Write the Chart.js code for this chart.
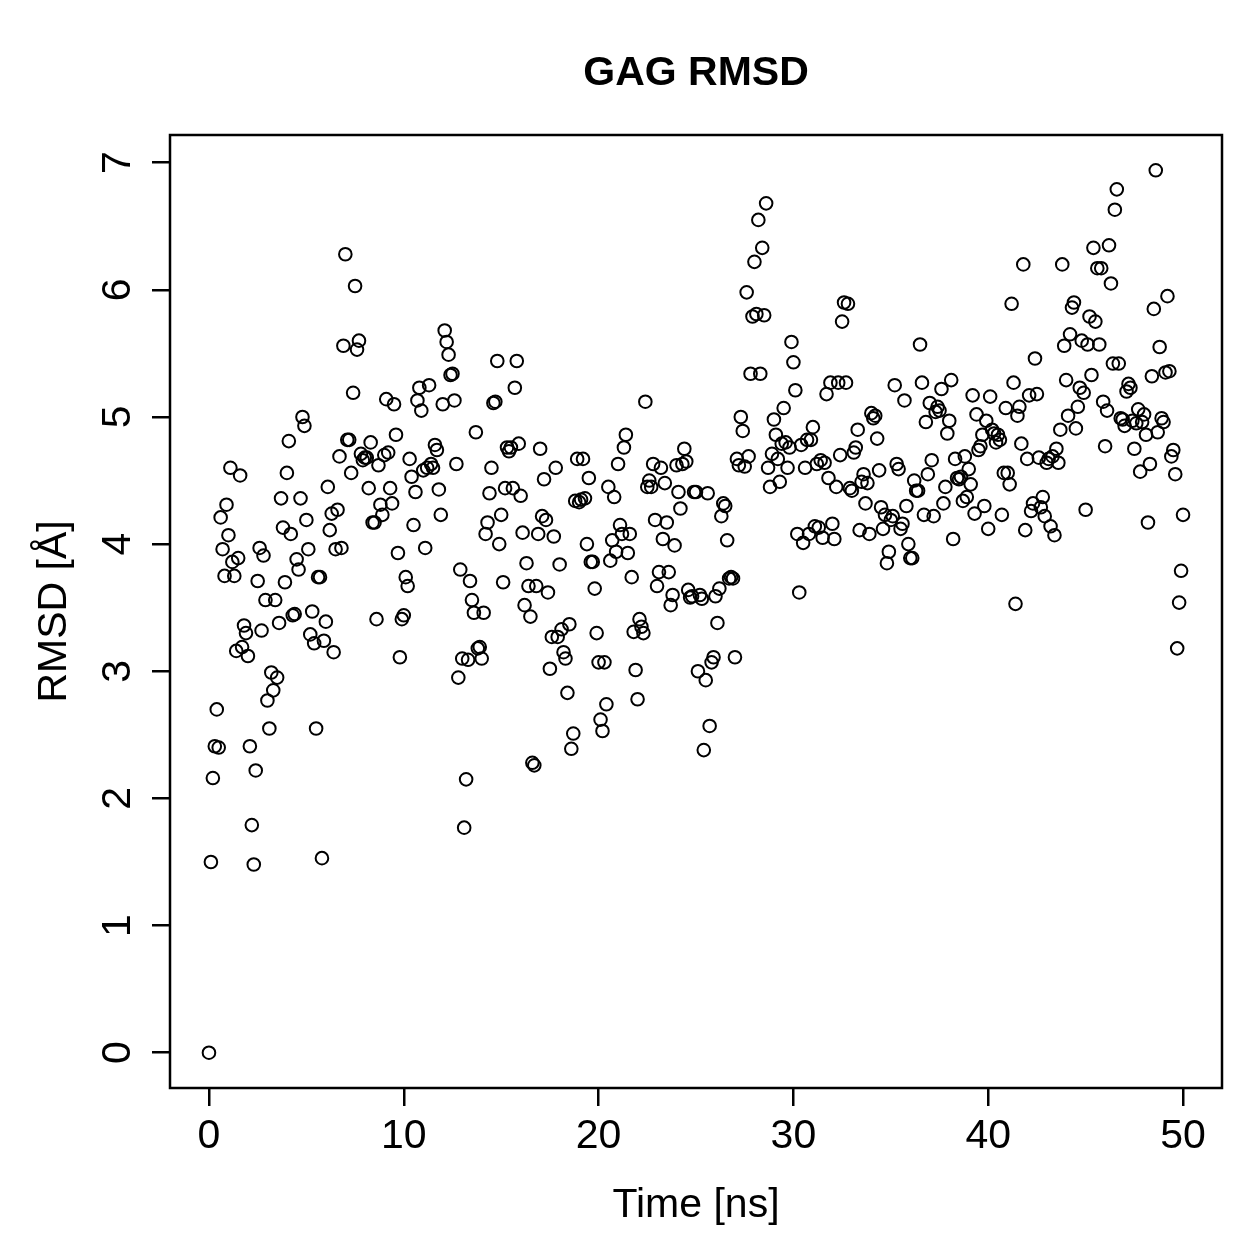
<!DOCTYPE html>
<html>
<head>
<meta charset="utf-8">
<script src="https://cdn.jsdelivr.net/npm/chart.js@4/dist/chart.umd.min.js"></script>
<style>
  html, body { margin: 0; padding: 0; background: #fff; }
  #wrap { width: 1259px; height: 1259px; }
</style>
</head>
<body>
<div id="wrap"><canvas id="c" width="1259" height="1259"></canvas></div>
<script>
// ---- DATA ----
const chartTitle = "GAG RMSD";
const xTitle = "Time [ns]";
const yTitle = "RMSD [Å]";
const xTickValues = [0, 10, 20, 30, 40, 50];
const yTickValues = [0, 1, 2, 3, 4, 5, 6, 7];
const frameStepNs = 0.1; // trajectory sampling interval

// RMSD values (Å), one per frame, split by 5 ns windows
const rmsd_00_05 = [0.00,1.50,2.16,2.41,2.70,2.40,4.21,3.96,3.75,4.31,4.07,4.60,3.86,3.75,3.16,3.89,4.54,3.19,3.36,3.30,3.12,2.41,1.79,1.48,2.22,3.71,3.97,3.32,3.91,3.56,2.77,2.55,2.99,2.85,3.56,2.95,3.38,4.36,4.13,3.70,4.56,4.81,4.08,3.44,3.45,3.88,3.80,4.36,5.00,4.93];
const rmsd_05_10 = [4.19,3.96,3.29,3.47,3.22,2.55,3.74,3.74,1.53,3.24,3.39,4.45,4.11,4.24,3.15,3.96,4.27,4.69,3.97,5.56,6.28,4.82,4.82,4.56,5.19,6.03,5.53,5.60,4.71,4.66,4.68,4.68,4.44,4.80,4.17,4.17,3.41,4.62,4.31,4.23,4.70,5.14,4.72,4.44,4.32,5.10,4.86,3.93,3.11,3.41];
const rmsd_10_15 = [3.44,3.74,3.67,4.67,4.53,4.15,4.41,5.13,5.23,5.05,4.58,3.97,4.60,5.25,4.63,4.60,4.78,4.74,4.43,4.23,5.10,5.68,5.59,5.49,5.33,5.34,5.13,4.63,2.95,3.80,3.10,1.77,2.15,3.09,3.71,3.56,3.46,4.88,3.18,3.19,3.10,3.46,4.08,4.17,4.40,4.60,5.11,5.12,5.44,4.00];
const rmsd_15_20 = [4.23,3.70,4.44,4.76,4.73,4.76,4.44,5.23,5.44,4.79,4.38,4.09,3.52,3.85,3.67,3.43,2.28,2.26,3.67,4.08,4.75,4.22,4.51,4.19,3.62,3.02,3.27,4.06,4.60,3.27,3.84,3.33,3.15,3.10,2.83,3.37,2.39,2.51,4.34,4.67,4.33,4.35,4.67,4.36,4.00,4.52,3.86,3.86,3.65,3.30];
const rmsd_20_25 = [3.07,2.62,2.53,3.07,2.74,4.45,3.87,4.03,4.37,3.94,4.63,4.15,4.08,4.76,4.86,3.93,4.08,3.74,3.31,3.01,2.78,3.41,3.35,3.30,5.12,4.45,4.50,4.45,4.63,4.19,3.67,3.78,4.60,4.04,4.48,4.17,3.78,3.52,3.60,3.99,4.62,4.41,4.28,4.63,4.75,4.65,3.64,3.58,3.59,4.41];
const rmsd_25_30 = [4.41,3.00,3.60,3.57,2.38,2.93,4.40,2.57,3.07,3.11,3.59,3.38,3.65,4.22,4.32,4.30,4.03,3.73,3.74,3.73,3.11,4.67,4.62,5.00,4.89,4.61,5.98,4.69,5.34,5.79,6.22,5.81,6.55,5.34,6.33,5.80,6.68,4.60,4.45,4.71,4.98,4.86,4.67,4.49,4.79,5.07,4.80,4.60,4.76,5.59];
const rmsd_30_35 = [5.43,5.21,4.08,3.62,4.78,4.01,4.60,4.82,4.08,4.82,4.92,4.14,4.63,4.13,4.66,4.05,4.64,5.18,4.52,5.27,4.16,4.04,4.45,5.27,4.70,5.75,5.90,5.27,5.89,4.44,4.42,4.72,4.76,4.90,4.11,4.49,4.55,4.32,4.48,4.08,5.03,4.99,5.01,4.83,4.58,4.29,4.12,4.23,3.85,3.94];
const rmsd_35_40 = [4.19,4.22,5.25,4.63,4.59,4.12,4.16,5.13,4.30,4.00,3.89,3.89,4.50,4.42,4.42,5.57,5.27,4.23,4.96,4.55,5.11,4.66,4.22,5.04,5.08,5.05,5.22,4.32,4.45,4.87,4.97,5.29,4.04,4.67,4.52,4.51,4.53,4.34,4.69,4.37,4.59,4.47,5.17,4.24,5.02,4.74,4.77,4.86,4.30,4.97];
const rmsd_40_45 = [4.12,5.16,4.90,4.87,4.80,4.86,4.82,4.23,4.56,5.07,4.56,4.47,5.89,5.27,3.53,5.01,5.08,4.79,6.20,4.11,4.67,5.17,4.26,4.32,5.46,5.18,4.68,4.29,4.37,4.22,4.64,4.67,4.14,4.69,4.07,4.75,4.64,4.90,6.20,5.56,5.29,5.01,5.65,5.86,5.90,4.91,5.08,5.23,5.60,5.19];
const rmsd_45_50 = [4.27,5.57,5.79,5.33,6.33,5.75,6.17,5.57,6.17,5.12,4.77,5.05,6.35,6.05,5.42,6.63,6.79,5.42,4.99,4.98,4.93,5.20,5.26,5.23,4.97,4.75,4.95,5.06,4.57,4.96,5.02,4.86,4.17,4.63,5.32,5.85,6.94,4.88,5.55,4.99,4.96,5.35,5.95,5.36,4.69,4.74,4.55,3.18,3.54,3.79,4.23];

const rmsd = [].concat(rmsd_00_05, rmsd_05_10, rmsd_10_15, rmsd_15_20, rmsd_20_25,
                       rmsd_25_30, rmsd_30_35, rmsd_35_40, rmsd_40_45, rmsd_45_50);
const points = rmsd.map((v, i) => ({ x: +(i * frameStepNs).toFixed(2), y: v }));

// R-style axis extension (4% each side)
function ext(lo, hi) { const d = (hi - lo) * 0.04; return [lo - d, hi + d]; }
const xr = ext(0, 50);
const yr = ext(Math.min(...rmsd), Math.max(...rmsd));

const FONT = "'Liberation Sans', Arial, Helvetica, sans-serif";

const decor = {
  id: 'decor',
  afterDraw(chart) {
    const ctx = chart.ctx, a = chart.chartArea, ys = chart.scales.y;
    ctx.save();
    ctx.strokeStyle = '#000';
    ctx.lineWidth = 2.5;
    ctx.strokeRect(a.left, a.top, a.right - a.left, a.bottom - a.top);
    ctx.fillStyle = '#000';
    // title
    ctx.font = 'bold 41px ' + FONT;
    ctx.textAlign = 'center';
    ctx.textBaseline = 'alphabetic';
    ctx.fillText(chartTitle, (a.left + a.right) / 2, 85);
    // x title
    ctx.font = '41px ' + FONT;
    ctx.fillText(xTitle, (a.left + a.right) / 2, 1217);
    // y title (rotated)
    ctx.save();
    ctx.translate(66, (a.top + a.bottom) / 2);
    ctx.rotate(-Math.PI / 2);
    ctx.fillText(yTitle, 0, 0);
    ctx.restore();
    // y tick labels (rotated, R style)
    yTickValues.forEach(v => {
      const py = ys.getPixelForValue(v);
      ctx.save();
      ctx.translate(130, py);
      ctx.rotate(-Math.PI / 2);
      ctx.fillText(String(v), 0, 0);
      ctx.restore();
    });
    ctx.restore();
  }
};

new Chart(document.getElementById('c'), {
  type: 'scatter',
  data: {
    datasets: [{
      data: points,
      pointStyle: 'circle',
      radius: 6.3,
      pointRadius: 6.3,
      pointHoverRadius: 6.3,
      borderColor: '#000',
      backgroundColor: 'rgba(0,0,0,0)',
      pointBorderWidth: 2,
      borderWidth: 2
    }]
  },
  options: {
    responsive: false,
    animation: false,
    events: [],
    elements: { point: { radius: 6.3, borderWidth: 2 } },
    layout: { padding: { top: 135, right: 37, left: 0, bottom: 0 } },
    plugins: { legend: { display: false }, tooltip: { enabled: false }, title: { display: false } },
    scales: {
      x: {
        type: 'linear',
        position: 'bottom',
        min: xr[0], max: xr[1],
        afterBuildTicks(s) { s.ticks = xTickValues.map(v => ({ value: v })); },
        afterFit(s) { s.height = 171; },
        grid: { drawOnChartArea: false, drawTicks: true, tickLength: 18, color: '#000', lineWidth: 2.5 },
        border: { display: false },
        ticks: { color: '#000', font: { family: FONT, size: 41 }, padding: 6, maxRotation: 0, minRotation: 0, autoSkip: false }
      },
      y: {
        type: 'linear',
        position: 'left',
        min: yr[0], max: yr[1],
        afterBuildTicks(s) { s.ticks = yTickValues.map(v => ({ value: v })); },
        afterFit(s) { s.width = 170; },
        grid: { drawOnChartArea: false, drawTicks: true, tickLength: 18, color: '#000', lineWidth: 2.5 },
        border: { display: false },
        ticks: { display: false }
      }
    }
  },
  plugins: [decor]
});
</script>
</body>
</html>
